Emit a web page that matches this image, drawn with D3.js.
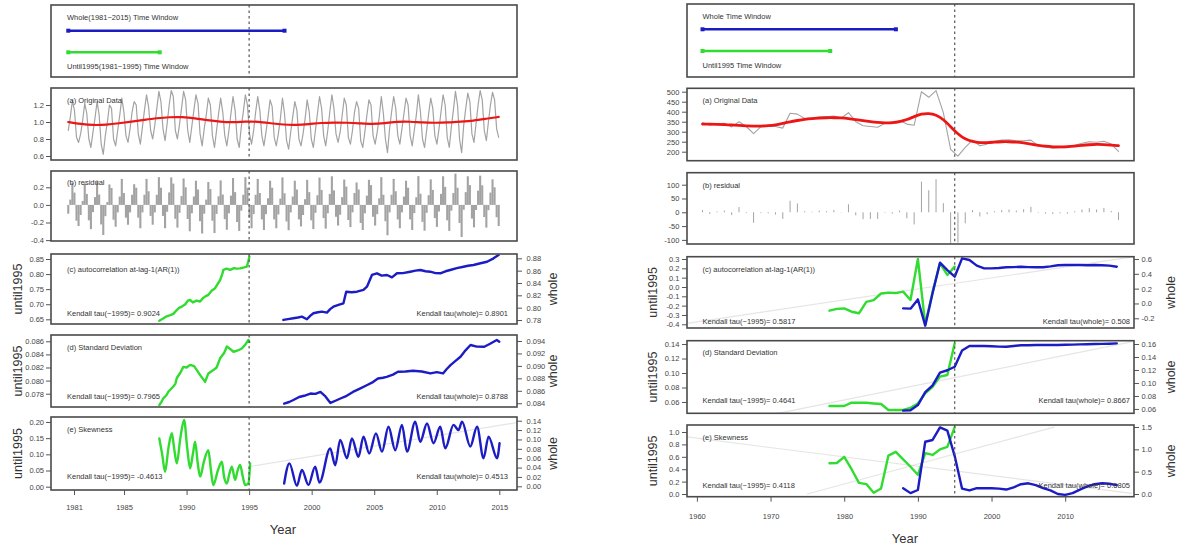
<!DOCTYPE html>
<html>
<head>
<meta charset="utf-8">
<script src="https://cdn.jsdelivr.net/npm/d3@7"></script>
<style>
  body { margin: 0; background: #fff; }
  svg { display: block; font-family: "Liberation Sans", Arial, Helvetica, sans-serif; }
</style>
</head>
<body>
<svg id="chart" width="1180" height="544"></svg>
<script>
// ---------- left figure: 1981-2015, sampled every two months ----------
const leftOrigStart = 1981;
const leftPerYear = 6;
const leftOrig = [
  0.90, 1.06, 1.25, 1.14, 0.82, 0.76,
  0.86, 1.02, 1.22, 1.10, 0.80, 0.70,
  0.88, 1.05, 1.24, 1.08, 0.74, 0.62,
  0.84, 1.00, 1.20, 1.16, 0.80, 0.72,
  0.90, 1.08, 1.28, 1.12, 0.84, 0.76,
  0.92, 1.12, 1.24, 1.20, 0.86, 0.74,
  0.94, 1.14, 1.32, 1.18, 0.90, 0.80,
  0.96, 1.16, 1.36, 1.24, 0.92, 0.78,
  0.98, 1.20, 1.37, 1.30, 0.90, 0.80,
  0.97, 1.16, 1.36, 1.26, 0.90, 0.76,
  0.95, 1.14, 1.32, 1.22, 0.86, 0.72,
  0.92, 1.08, 1.28, 1.20, 0.84, 0.70,
  0.90, 1.10, 1.28, 1.12, 0.84, 0.72,
  0.90, 1.10, 1.30, 1.14, 0.80, 0.70,
  0.94, 1.12, 1.32, 1.20, 0.86, 0.74,
  0.90, 1.12, 1.30, 1.14, 0.84, 0.72,
  0.88, 1.06, 1.26, 1.18, 0.82, 0.72,
  0.86, 1.04, 1.28, 1.10, 0.78, 0.68,
  0.88, 1.06, 1.24, 1.14, 0.80, 0.72,
  0.86, 1.04, 1.26, 1.12, 0.80, 0.70,
  0.90, 1.10, 1.30, 1.16, 0.84, 0.72,
  0.90, 1.12, 1.32, 1.16, 0.86, 0.76,
  0.88, 1.08, 1.28, 1.20, 0.82, 0.74,
  0.90, 1.12, 1.24, 1.16, 0.78, 0.70,
  0.88, 1.08, 1.26, 1.20, 0.84, 0.74,
  0.88, 1.06, 1.30, 1.10, 0.80, 0.64,
  0.92, 1.12, 1.30, 1.16, 0.84, 0.74,
  0.92, 1.10, 1.28, 1.20, 0.84, 0.72,
  0.90, 1.08, 1.32, 1.12, 0.80, 0.70,
  0.90, 1.10, 1.28, 1.16, 0.84, 0.74,
  0.92, 1.12, 1.32, 1.20, 0.82, 0.70,
  0.94, 1.14, 1.36, 1.20, 0.80, 0.64,
  0.96, 1.16, 1.34, 1.24, 0.86, 0.76,
  0.98, 1.20, 1.37, 1.26, 0.90, 0.78,
  1.00, 1.20, 1.35, 1.26, 0.92, 0.82
];
// smooth fit, one value per year
const leftTrend = [
  1.000, 0.975, 0.962, 0.968, 0.985, 1.005, 1.025, 1.045, 1.058, 1.060,
  1.045, 1.020, 1.002, 0.995, 1.005, 1.005, 0.985, 0.968, 0.965, 0.975,
  0.990, 0.995, 0.992, 0.985, 0.975, 0.985, 1.005, 1.005, 0.993, 0.990,
  0.995, 1.005, 1.015, 1.038, 1.060
];
const leftWindows = [17.5, 7.4];   // whole, until1995 (years)

const leftAcUntil = [
  [1987.82,0.645],[1988.1,0.652],[1988.4,0.660],[1988.7,0.664],[1988.94,0.668],[1989.2,0.680],
  [1989.4,0.688],[1989.62,0.692],[1989.9,0.700],[1990.1,0.712],[1990.28,0.714],[1990.5,0.706],
  [1990.8,0.712],[1991.08,0.709],[1991.3,0.720],[1991.5,0.726],[1991.74,0.731],[1992.0,0.745],
  [1992.28,0.753],[1992.5,0.768],[1992.68,0.780],[1992.85,0.800],[1992.94,0.814],[1993.2,0.818],
  [1993.48,0.814],[1993.8,0.820],[1994.0,0.818],[1994.28,0.819],[1994.6,0.822],[1994.82,0.825],
  [1994.95,0.845],[1995.02,0.858]
];
const leftAcWhole = [
  [1997.74,0.7801],[1998.1,0.7815],[1998.54,0.7828],[1998.9,0.7840],[1999.22,0.7854],[1999.62,0.7812],
  [1999.9,0.7870],[2000.14,0.7909],[2000.5,0.7925],[2000.82,0.7935],[2001.22,0.7919],[2001.5,0.7980],
  [2001.74,0.8016],[2002.14,0.8044],[2002.54,0.8071],[2002.76,0.8259],[2003.2,0.8250],[2003.62,0.8259],
  [2004.14,0.8287],[2004.42,0.8340],[2004.82,0.8530],[2005.22,0.8557],[2005.6,0.8520],[2006.02,0.8530],
  [2006.42,0.8492],[2006.82,0.8557],[2007.3,0.8560],[2007.88,0.8583],[2008.3,0.8600],[2008.68,0.8611],
  [2009.1,0.8590],[2009.48,0.8583],[2009.9,0.8560],[2010.28,0.8557],[2010.7,0.8590],[2011.08,0.8611],
  [2011.6,0.8640],[2012.14,0.8664],[2012.5,0.8680],[2012.94,0.8692],[2013.5,0.8720],[2014.02,0.8745],
  [2014.54,0.8800],[2014.94,0.8853]
];
const leftSdUntil = [
  [1987.82,0.07627],[1988.0,0.0768],[1988.14,0.0773],[1988.4,0.0778],[1988.54,0.0783],[1988.94,0.0791],
  [1989.1,0.0795],[1989.22,0.0804],[1989.5,0.0812],[1989.74,0.0821],[1990.0,0.0820],[1990.28,0.0824],
  [1990.6,0.0822],[1990.82,0.0816],[1991.1,0.0808],[1991.48,0.0798],[1991.74,0.0811],[1992.14,0.0816],
  [1992.4,0.0820],[1992.68,0.0834],[1993.0,0.0842],[1993.22,0.0852],[1993.5,0.0848],[1993.75,0.0844],
  [1994.1,0.0846],[1994.42,0.0849],[1994.7,0.0855],[1994.94,0.0862],[1995.02,0.0859]
];
const leftSdWhole = [
  [1997.8,0.08395],[1998.2,0.0842],[1998.5,0.08448],[1999.0,0.0850],[1999.4,0.0852],[1999.9,0.08556],
  [2000.3,0.0855],[2000.7,0.08582],[2001.1,0.0851],[2001.5,0.08405],[2001.9,0.0844],[2002.3,0.08476],
  [2002.8,0.0852],[2003.3,0.08582],[2003.9,0.0864],[2004.4,0.0869],[2004.9,0.0874],[2005.3,0.08798],
  [2005.7,0.0881],[2006.0,0.08824],[2006.5,0.0886],[2006.9,0.08905],[2007.5,0.0891],[2008.1,0.08921],
  [2008.8,0.0891],[2009.5,0.08879],[2010.0,0.0890],[2010.5,0.08879],[2010.8,0.0895],[2011.1,0.09013],
  [2011.5,0.0908],[2011.9,0.09147],[2012.3,0.0925],[2012.7,0.09335],[2013.2,0.0931],[2013.8,0.09308],
  [2014.3,0.0936],[2014.8,0.09416],[2015.0,0.09389]
];
const leftSkUntil = [
  [1987.82,0.149],[1988.05,0.100],[1988.28,0.046],[1988.55,0.120],[1988.82,0.165],[1989.0,0.120],
  [1989.22,0.072],[1989.5,0.150],[1989.8,0.206],[1990.05,0.120],[1990.28,0.057],[1990.5,0.100],
  [1990.68,0.139],[1990.9,0.070],[1991.08,0.031],[1991.4,0.080],[1991.74,0.113],[1991.95,0.050],
  [1992.14,0.005],[1992.5,0.050],[1992.82,0.077],[1993.0,0.030],[1993.22,0.010],[1993.42,0.040],
  [1993.62,0.062],[1993.88,0.021],[1994.08,0.050],[1994.28,0.067],[1994.5,0.030],[1994.68,0.005],
  [1994.94,0.010],[1995.08,0.072]
];
const leftSkWhole = [
  [1997.8,0.006],[1998.22,0.049],[1998.82,0.001],[1999.22,0.035],[1999.74,0.003],[2000.28,0.042],
  [2000.62,0.008],[2001.48,0.081],[2001.88,0.045],[2002.28,0.099],[2002.82,0.060],[2003.22,0.102],
  [2003.74,0.063],[2004.14,0.106],[2004.6,0.070],[2005.14,0.113],[2005.62,0.074],[2006.14,0.127],
  [2006.68,0.077],[2007.22,0.131],[2007.62,0.074],[2008.28,0.138],[2008.68,0.095],[2009.22,0.134],
  [2009.74,0.092],[2010.28,0.127],[2010.68,0.081],[2011.34,0.131],[2011.74,0.120],[2012.02,0.138],
  [2012.68,0.085],[2013.22,0.127],[2013.74,0.060],[2014.14,0.106],[2014.82,0.060],[2015.02,0.092]
];
const leftFaintE = [[1995,0.042],[2016.4,0.136]];
const leftTau = ["0.9024", "0.8901", "0.7965", "0.8788", "-0.4613", "0.4513"];

const leftTicksA = [0.6, 0.8, 1.0, 1.2];
const leftTicksB = [-0.4, -0.2, 0.0, 0.2];
const leftTicksCL = [0.65, 0.70, 0.75, 0.80, 0.85];
const leftTicksCR = [0.78, 0.80, 0.82, 0.84, 0.86, 0.88];
const leftTicksDL = [0.078, 0.080, 0.082, 0.084, 0.086];
const leftTicksDR = [0.084, 0.086, 0.088, 0.090, 0.092, 0.094];
const leftTicksEL = [0.00, 0.05, 0.10, 0.15, 0.20];
const leftTicksER = [0.00, 0.02, 0.04, 0.06, 0.08, 0.10, 0.12, 0.14];
const leftTicksX = [1981, 1985, 1990, 1995, 2000, 2005, 2010, 2015];

// ---------- right figure: annual values 1960-2017 ----------
const rightStart = 1960;
const rightOrig = [
  346, 332, 340, 342, 324, 350, 326, 290, 325, 326,
  326, 318, 392, 388, 366, 368, 374, 374, 378, 368,
  395, 350, 330, 326, 322, 342, 340, 356, 338, 332,
  500, 472, 505, 395, 212, 178, 222, 258, 230, 238,
  252, 258, 260, 254, 255, 258, 230, 222, 218, 220,
  220, 232, 242, 250, 247, 252, 238, 202
];
const rightTrend = [
  338, 338, 337, 336, 334, 331, 329, 328, 328, 330,
  334, 342, 350, 356, 362, 366, 368, 370, 370, 369,
  366, 361, 355, 350, 346, 344, 345, 350, 360, 376,
  389, 392, 385, 362, 325, 288, 262, 250, 245, 245,
  248, 250, 250, 248, 244, 238, 232, 227, 224, 224,
  225, 228, 232, 235, 237, 236, 233, 230
];
const rightWindows = [26.5, 17.5];

const rightAcUntil = [
  [1978,-0.254],[1979,-0.235],[1980,-0.230],[1981,-0.265],[1982,-0.282],[1983,-0.160],
  [1984,-0.140],[1985,-0.070],[1986,-0.060],[1987,-0.065],[1988,-0.050],[1989,-0.139],
  [1990,0.300],[1991,-0.400],[1992,-0.050],[1993,0.254],[1994,0.129],[1995,0.218]
];
const rightAcWhole = [
  [1988,-0.066],[1989,-0.070],[1990,0.055],[1991,-0.300],[1992,0.140],[1993,0.550],
  [1994,0.451],[1995,0.361],[1996,0.609],[1997,0.586],[1998,0.510],[1999,0.474],
  [2000,0.474],[2001,0.478],[2002,0.488],[2003,0.490],[2004,0.496],[2005,0.490],
  [2006,0.488],[2007,0.488],[2008,0.500],[2009,0.515],[2010,0.519],[2011,0.519],
  [2012,0.519],[2013,0.515],[2014,0.519],[2015,0.515],[2016,0.510],[2017,0.496]
];
const rightSdUntil = [
  [1978,0.0545],[1979,0.0545],[1980,0.0545],[1981,0.0590],[1982,0.0590],[1983,0.0590],
  [1984,0.0580],[1985,0.0572],[1986,0.0490],[1987,0.0490],[1988,0.0490],[1989,0.0520],
  [1990,0.0580],[1991,0.0720],[1992,0.0810],[1993,0.0950],[1994,0.0972],[1995,0.1410]
];
const rightSdWhole = [
  [1988,0.0574],[1989,0.0580],[1990,0.0660],[1991,0.0860],[1992,0.0963],[1993,0.1160],
  [1994,0.1196],[1995,0.1250],[1996,0.1500],[1997,0.1569],[1998,0.1570],[1999,0.1570],
  [2000,0.1565],[2001,0.1560],[2002,0.1558],[2003,0.1570],[2004,0.1580],[2005,0.1580],
  [2006,0.1585],[2007,0.1585],[2008,0.1585],[2009,0.1585],[2010,0.1588],[2011,0.1590],
  [2012,0.1595],[2013,0.1597],[2014,0.1600],[2015,0.1602],[2016,0.1605],[2017,0.1610]
];
const rightSkUntil = [
  [1978,0.495],[1979,0.500],[1980,0.600],[1981,0.400],[1982,0.180],[1983,0.160],
  [1984,0.020],[1985,0.090],[1986,0.620],[1987,0.680],[1988,0.560],[1989,0.440],
  [1990,0.310],[1991,0.660],[1992,0.630],[1993,0.720],[1994,0.760],[1995,1.080]
];
const rightSkWhole = [
  [1988,0.13],[1989,0.02],[1990,0.09],[1991,1.17],[1992,1.21],[1993,1.49],
  [1994,1.42],[1995,0.85],[1996,0.12],[1997,0.08],[1998,0.13],[1999,0.13],
  [2000,0.13],[2001,0.12],[2002,0.10],[2003,0.15],[2004,0.22],[2005,0.24],
  [2006,0.20],[2007,0.13],[2008,0.08],[2009,0.00],[2010,-0.02],[2011,0.02],
  [2012,0.10],[2013,0.17],[2014,0.22],[2015,0.24],[2016,0.23],[2017,0.20]
];
const rightFaintC = [[1958.66,-0.39],[2019.34,0.325]];
const rightFaintD = [[1971,0.0444],[2019,0.143]];
const rightFaintE = [[1958.66,0.92],[2019,0.01]];
const rightFaintE2 = [[1975,0.0],[2008.5,1.08]];
const rightTau = ["0.5817", "0.508", "0.4641", "0.8667", "0.4118", "0.6805"];

const rightTicksA = [200, 250, 300, 350, 400, 450, 500];
const rightTicksB = [-100, -50, 0, 50, 100];
const rightTicksCL = [-0.4, -0.3, -0.2, -0.1, 0.0, 0.1, 0.2, 0.3];
const rightTicksCR = [-0.2, 0.0, 0.2, 0.4, 0.6];
const rightTicksDL = [0.06, 0.08, 0.10, 0.12, 0.14];
const rightTicksDR = [0.06, 0.08, 0.10, 0.12, 0.14, 0.16];
const rightTicksEL = [0.0, 0.2, 0.4, 0.6, 0.8, 1.0];
const rightTicksER = [0.0, 0.5, 1.0, 1.5];
const rightTicksX = [1960, 1970, 1980, 1990, 2000, 2010];

const BLUE = "#1c1cc4";
const GREEN = "#2fdc2f";
const GREY = "#a3a3a3";
const RED = "#ee1515";
const FAINT = "rgba(170,170,170,0.3)";

const svg = d3.select("#chart");

function drawFigure(f) {
  const g = svg.append("g");
  const xTop = d3.scaleLinear().domain(f.xTop).range([f.x0, f.x1]);
  const xBot = d3.scaleLinear().domain(f.xBot).range([f.x0, f.x1]);
  const xDash = xBot(1995);
  let nClip = 0;

  const text = (x, y, s, size = 7.5, anchor = "start", fill = "#333") =>
    g.append("text").attr("x", x).attr("y", y).attr("font-size", size)
      .attr("text-anchor", anchor).attr("fill", fill).text(s);

  function panel([y0, y1]) {
    const id = `${f.id}-clip${nClip++}`;
    g.append("clipPath").attr("id", id).append("rect")
      .attr("x", f.x0).attr("y", y0).attr("width", f.x1 - f.x0).attr("height", y1 - y0);
    return { y0, y1, inner: g.append("g").attr("clip-path", `url(#${id})`) };
  }

  function finish(p) {
    g.append("line").attr("x1", xDash).attr("x2", xDash).attr("y1", p.y0).attr("y2", p.y1)
      .attr("stroke", "#555").attr("stroke-width", 1.2).attr("stroke-dasharray", "2.5,3");
    g.append("rect").attr("x", f.x0).attr("y", p.y0)
      .attr("width", f.x1 - f.x0).attr("height", p.y1 - p.y0)
      .attr("fill", "none").attr("stroke", "#4a4a4a").attr("stroke-width", 1.6);
  }

  function yAxis(p, domain, ticks, dec, side) {
    const y = d3.scaleLinear().domain(domain).range([p.y1, p.y0]);
    const left = side === "left";
    const ax = (left ? d3.axisLeft(y) : d3.axisRight(y))
      .tickValues(ticks).tickSize(5).tickPadding(left ? f.padL : f.padR)
      .tickFormat(d => d.toFixed(dec));
    const a = g.append("g").attr("transform", `translate(${left ? f.x0 : f.x1},0)`).call(ax);
    a.select(".domain").remove();
    a.selectAll("line").attr("stroke", "#555");
    a.selectAll("text").attr("font-size", 7.5).attr("fill", "#444")
      .attr("font-family", "'Liberation Sans', Arial, sans-serif");
    return y;
  }

  const path = (p, data, x, y, color, w, curve = d3.curveLinear) =>
    p.inner.append("path").datum(data)
      .attr("d", d3.line().curve(curve).x(d => x(d[0])).y(d => y(d[1])))
      .attr("fill", "none").attr("stroke", color).attr("stroke-width", w)
      .attr("stroke-linejoin", "round").attr("stroke-linecap", "round");

  // time window box
  const box = panel(f.box);
  const bar = (yy, len, color) => {
    const xa = xTop(f.winStart), xb = xTop(f.winStart + len);
    g.append("line").attr("x1", xa).attr("x2", xb).attr("y1", yy).attr("y2", yy)
      .attr("stroke", color).attr("stroke-width", 2.6);
    [xa, xb].forEach(xx => g.append("rect").attr("x", xx - 2).attr("y", yy - 2)
      .attr("width", 4).attr("height", 4).attr("fill", color));
  };
  text(f.textX, f.boxText[0], f.boxTitles[0]);
  bar(f.boxBars[0], f.windows[0], BLUE);
  bar(f.boxBars[1], f.windows[1], GREEN);
  text(f.textX, f.boxText[1], f.boxTitles[1]);
  finish(box);

  // (a) original data with fitted trend
  const pa = panel(f.a);
  const ya = yAxis(pa, f.aDom, f.aTicks, f.aDec, "left");
  path(pa, f.orig, xTop, ya, GREY, f.origW);
  path(pa, f.trend, xTop, ya, RED, f.trendW, d3.curveBasis);
  text(f.textX, f.labelY[0], "(a) Original Data");
  finish(pa);

  // (b) residual
  const pb = panel(f.b);
  const yb = yAxis(pb, f.bDom, f.bTicks, f.bDec, "left");
  pb.inner.selectAll("line.res").data(f.resid).join("line").attr("class", "res")
    .attr("x1", d => xTop(d[0])).attr("x2", d => xTop(d[0]))
    .attr("y1", yb(0)).attr("y2", d => yb(d[1]))
    .attr("stroke", GREY).attr("stroke-width", f.resW);
  text(f.textX, f.labelY[1], "(b) residual");
  finish(pb);

  // (c)-(e) indicators: green = until1995 (left axis), blue = whole (right axis)
  f.ind.forEach((s, i) => {
    const p = panel(s.box);
    const yl = yAxis(p, s.lDom, s.lTicks, s.lDec, "left");
    const yr = yAxis(p, s.rDom, s.rTicks, s.rDec, "right");
    s.faint.forEach(fl => path(p, fl.data, xBot, fl.side === "l" ? yl : yr, FAINT, 1.2));
    path(p, s.until, xBot, yl, GREEN, f.indW, s.curve || d3.curveLinear);
    path(p, s.whole, xBot, yr, BLUE, f.indW, s.curve || d3.curveLinear);
    text(f.textX, s.labelY, s.label);
    text(f.textX, s.tauY, `Kendall tau(~1995)= ${f.tau[i * 2]}`);
    text(f.tauRX, s.tauY, `Kendall tau(whole)= ${f.tau[i * 2 + 1]}`, 7.5, "end");
    const yc = (p.y0 + p.y1) / 2;
    g.append("text").attr("transform", `translate(${f.untilX},${yc}) rotate(-90)`)
      .attr("text-anchor", "middle").attr("font-size", 12.5).attr("fill", "#333").text("until1995");
    g.append("text").attr("transform", `translate(${f.wholeX},${yc}) rotate(-90)`)
      .attr("text-anchor", "middle").attr("font-size", 12.5).attr("fill", "#333").text("whole");
    finish(p);
  });

  // x axis
  const lastBox = f.ind[f.ind.length - 1].box;
  const xa = g.append("g").attr("transform", `translate(0,${lastBox[1]})`)
    .call(d3.axisBottom(xBot).tickValues(f.xTicks).tickSize(5).tickPadding(f.padX).tickFormat(d3.format("d")));
  xa.select(".domain").remove();
  xa.selectAll("line").attr("stroke", "#555");
  xa.selectAll("text").attr("font-size", 7.5).attr("fill", "#444")
    .attr("font-family", "'Liberation Sans', Arial, sans-serif");
  text(f.yearPos[0], f.yearPos[1], "Year", 13, "middle", "#333");
}

// ---------- build the two figures ----------
const leftOrigPairs = leftOrig.map((v, i) => [leftOrigStart + i / leftPerYear, v]);
const leftTrendPairs = leftTrend.map((v, i) => [leftOrigStart + i * (35 - 1 / leftPerYear) / 34, v]);
const leftResid = leftOrig.map((v, i) =>
  [leftOrigStart + i / leftPerYear, v - leftTrend[Math.floor(i / leftPerYear)]]);

drawFigure({
  id: "L", x0: 51, x1: 517,
  xTop: [1979.603, 2017.314], xBot: [1979.161, 2016.415],
  padL: 2, padR: 4.5, padX: 9.4,
  textX: 67, tauRX: 508, untilX: 21.5, wholeX: 557, yearPos: [283, 533.5],
  winStart: 1981, windows: leftWindows,
  box: [5, 77], boxText: [20, 68.5], boxBars: [30.7, 52.3],
  boxTitles: ["Whole(1981~2015) Time Window", "Until1995(1981~1995) Time Window"],
  a: [88, 160], aDom: [0.553, 1.4], aTicks: leftTicksA, aDec: 1,
  orig: leftOrigPairs, trend: leftTrendPairs, origW: 1.2, trendW: 2.2,
  b: [171, 241], bDom: [-0.41, 0.385], bTicks: leftTicksB, bDec: 1,
  resid: leftResid, resW: 2.1,
  labelY: [102.5, 185], indW: 2.4, tau: leftTau, xTicks: leftTicksX,
  ind: [
    { box: [254, 324], lDom: [0.6344, 0.8666], lTicks: leftTicksCL, lDec: 2,
      rDom: [0.7735, 0.887], rTicks: leftTicksCR, rDec: 2,
      until: leftAcUntil, whole: leftAcWhole, faint: [],
      label: "(c) autocorrelation at-lag-1(AR(1))", labelY: 271.5, tauY: 315.5 },
    { box: [335, 407], lDom: [0.07597, 0.08696], lTicks: leftTicksDL, lDec: 3,
      rDom: [0.0834, 0.09496], rTicks: leftTicksDR, rDec: 3,
      until: leftSdUntil, whole: leftSdWhole, faint: [],
      label: "(d) Standard Deviation", labelY: 350, tauY: 398.5 },
    { box: [417, 490], lDom: [-0.0102, 0.2154], lTicks: leftTicksEL, lDec: 2,
      rDom: [-0.0079, 0.1479], rTicks: leftTicksER, rDec: 2, curve: d3.curveMonotoneX,
      until: leftSkUntil, whole: leftSkWhole, faint: [{ data: leftFaintE, side: "r" }],
      label: "(e) Skewness", labelY: 432, tauY: 479 }
  ]
});

const rightOrigPairs = rightOrig.map((v, i) => [rightStart + i, v]);
const rightTrendPairs = rightTrend.map((v, i) => [rightStart + i, v]);
const rightResid = rightOrig.map((v, i) => [rightStart + i, v - rightTrend[i]]);

drawFigure({
  id: "R", x0: 687, x1: 1134,
  xTop: [1957.876, 2019.124], xBot: [1958.656, 2019.34],
  padL: 2.7, padR: 2.5, padX: 11.7,
  textX: 702.5, tauRX: 1130, untilX: 656.5, wholeX: 1174.5, yearPos: [905, 542.5],
  winStart: 1960, windows: rightWindows,
  box: [4, 77], boxText: [18.5, 67.5], boxBars: [29.3, 51],
  boxTitles: ["Whole Time Window", "Until1995 Time Window"],
  a: [88.3, 160.7], aDom: [155, 517], aTicks: rightTicksA, aDec: 0,
  orig: rightOrigPairs, trend: rightTrendPairs, origW: 1.1, trendW: 2.8,
  b: [172.7, 244], bDom: [-114.9, 143.5], bTicks: rightTicksB, bDec: 0,
  resid: rightResid, resW: 1,
  labelY: [102.5, 187.5], indW: 2.4, tau: rightTau, xTicks: rightTicksX,
  ind: [
    { box: [256.7, 328], lDom: [-0.4396, 0.3247], lTicks: rightTicksCL, lDec: 1,
      rDom: [-0.331, 0.631], rTicks: rightTicksCR, rDec: 1,
      until: rightAcUntil, whole: rightAcWhole, faint: [{ data: rightFaintC, side: "l" }],
      label: "(c) autocorrelation at-lag-1(AR(1))", labelY: 271.5, tauY: 324 },
    { box: [340.7, 413.3], lDom: [0.0444, 0.1446], lTicks: rightTicksDL, lDec: 2,
      rDom: [0.0533, 0.1651], rTicks: rightTicksDR, rDec: 2,
      until: rightSdUntil, whole: rightSdWhole, faint: [{ data: rightFaintD, side: "l" }],
      label: "(d) Standard Deviation", labelY: 355, tauY: 403 },
    { box: [425, 496.7], lDom: [-0.0435, 1.113], lTicks: rightTicksEL, lDec: 1,
      rDom: [-0.06, 1.545], rTicks: rightTicksER, rDec: 1,
      until: rightSkUntil, whole: rightSkWhole,
      faint: [{ data: rightFaintE, side: "l" }, { data: rightFaintE2, side: "l" }],
      label: "(e) Skewness", labelY: 440, tauY: 487.5 }
  ]
});
</script>
</body>
</html>
